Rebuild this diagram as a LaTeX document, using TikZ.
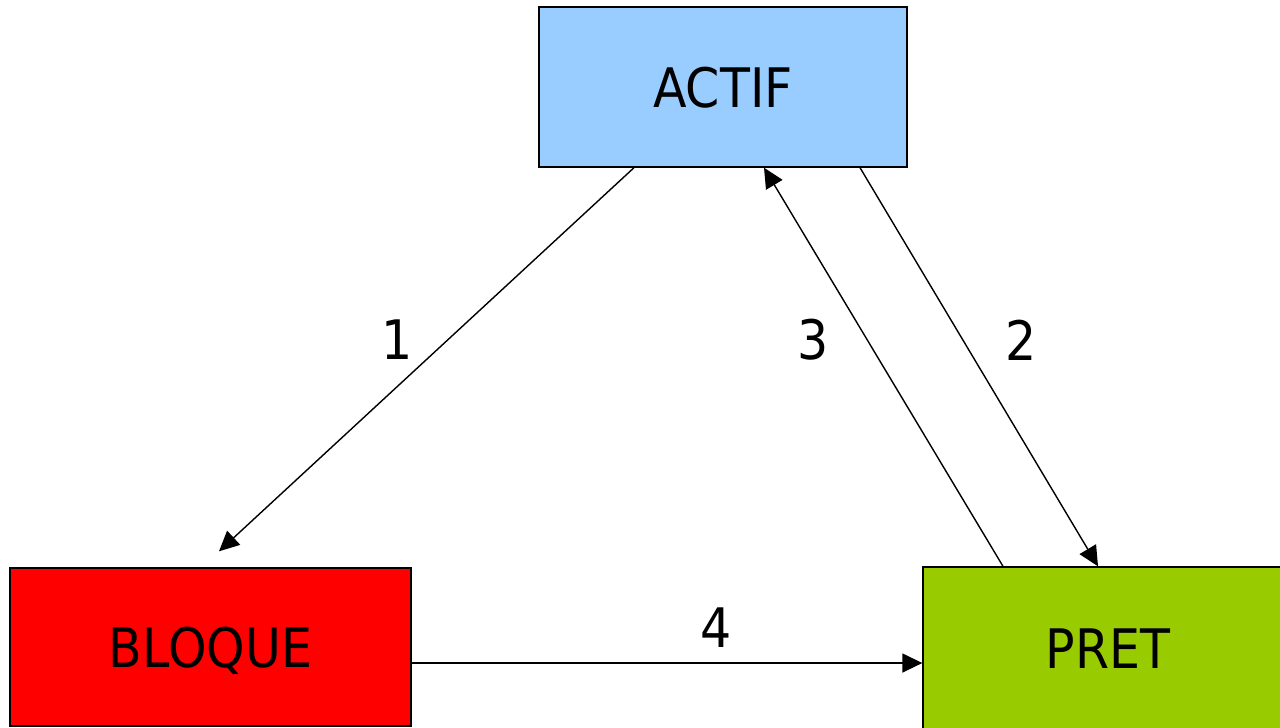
\documentclass[tikz,border=0pt]{standalone}
\usepackage{fontspec}
\setmainfont{DejaVu Sans}[FakeStretch=0.9]
\usetikzlibrary{arrows.meta,calc}

\begin{document}
\begin{tikzpicture}[x=0.02cm, y=-0.02cm,
    etat/.style={draw=black, line width=0.8pt, text depth=0pt,
        font=\fontsize{31}{37}\selectfont},
    fleche/.style={draw=black, line width=0.8pt,
        -{Triangle[length=0.4cm, width=0.38cm]}},
    numero/.style={font=\fontsize{31}{37}\selectfont}]
    % Define colors
    \definecolor{actifcolor}{RGB}{153,204,255}  % Light blue
    \definecolor{bloquecolor}{RGB}{255,0,0}     % Red
    \definecolor{pretcolor}{RGB}{153,204,0}     % Green

    \useasboundingbox (0,0) rectangle (1280,727);

    % Draw states
    \node[etat, fill=actifcolor, minimum width=7.36cm, minimum height=3.2cm] (actif) at (723,87) {ACTIF};
    \node[etat, fill=bloquecolor, minimum width=8.02cm, minimum height=3.16cm] (bloque) at (210.5,647) {BLOQUE};
    \node[etat, fill=pretcolor, minimum width=7.4cm, minimum height=3.28cm] (pret) at (1108,649) {PRET};

    % Draw transitions
    \draw[fleche] ($(actif.south)+(-89,0)$) -- ($(bloque.north)+(8.5,-16)$);
    \draw[fleche] ($(actif.south)+(137,0)$) -- ($(pret.north)+(-10,0)$);
    \draw[fleche] ($(pret.north)+(-105,0)$) -- ($(actif.south)+(41,0)$);
    \draw[fleche] ($(bloque.east)+(0,16)$) -- ($(pret.west)+(0,14)$);

    % Transition numbers
    \node[numero] (un) at (397,340) {1};
    \node[numero] (deux) at (1021,340) {2};
    \node[numero] (trois) at (813,340) {3};
    \node[numero] (quatre) at (716,628) {4};
\end{tikzpicture}
\end{document}
